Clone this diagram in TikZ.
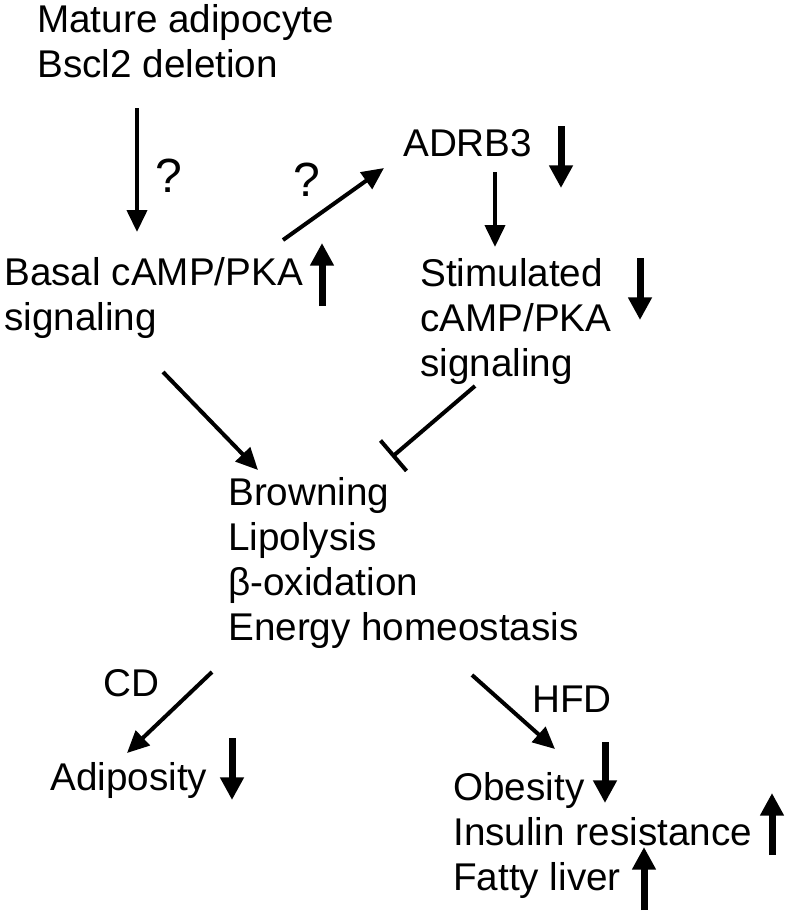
\documentclass[tikz,border=0pt]{standalone}
\usepackage{fontspec}
\setmainfont{Liberation Sans}
\usetikzlibrary{arrows.meta}

\begin{document}
\begin{tikzpicture}[x=0.75pt, y=-0.75pt,
	>={Triangle[length=16.5pt,width=15pt]},
	txt/.style={anchor=base west, inner sep=0pt, align=left,
		font=\fontsize{29}{33.75}\selectfont},
	query/.style={txt, font=\fontsize{36}{40}\selectfont},
	flow/.style={->, line width=3pt},
	trend/.style={-{Triangle[length=17pt,width=17pt]}, line width=5.25pt}]

\useasboundingbox (0,0) rectangle (788,915);

% base of a block = baseline of its last line
\node (top) at (37,77) [txt] {Mature adipocyte\\Bscl2 deletion};
\node (basal) at (4,330) [txt] {Basal cAMP/PKA\\signaling};
\node (adrb) at (403,156) [txt] {ADRB3};
\node (stim) at (420,376) [txt] {Stimulated\\cAMP/PKA\\signaling};
\node (mid) at (228,640) [txt] {Browning\\Lipolysis\\β-oxidation\\Energy homeostasis};
\node (adip) at (50,790) [txt] {Adiposity};
\node (hfdout) at (453,890) [txt] {Obesity\\Insulin resistance\\Fatty liver};

\node (q1) at (155,192) [query] {?};
\node (q2) at (293,196) [query] {?};
\node (cd) at (103,696) [txt] {CD};
\node (hfd) at (532,712) [txt] {HFD};

\draw[flow] ([shift={(100,31)}]top.base west) -- ([shift={(133,-98)}]basal.base west);
\draw[flow] ([shift={(279,-90)}]basal.base west) -- ([shift={(-19,12)}]adrb.base west);
\draw[flow] ([shift={(92,16)}]adrb.base west) -- ([shift={(75,-129)}]stim.base west);
\draw[flow] ([shift={(159,42)}]basal.base west) -- ([shift={(30,-170)}]mid.base west);
\draw[line width=3pt, -{Bar[width=30pt]}] ([shift={(55,10)}]stim.base west) -- ([shift={(164,-183)}]mid.base west);
\draw[flow] ([shift={(-16,32)}]mid.base west) -- ([shift={(77,-37)}]adip.base west);
\draw[flow] ([shift={(244,35)}]mid.base west) -- ([shift={(102,-141)}]hfdout.base west);

% up / down markers
\foreach \x/\ya/\yb in {322/306/243, 561/126/188, 640/258/320, 232/738/800,
	605/742/803, 772/855/793, 644/910/847}{
	\draw[trend] (\x,\ya)--(\x,\yb);
}

\end{tikzpicture}
\end{document}
